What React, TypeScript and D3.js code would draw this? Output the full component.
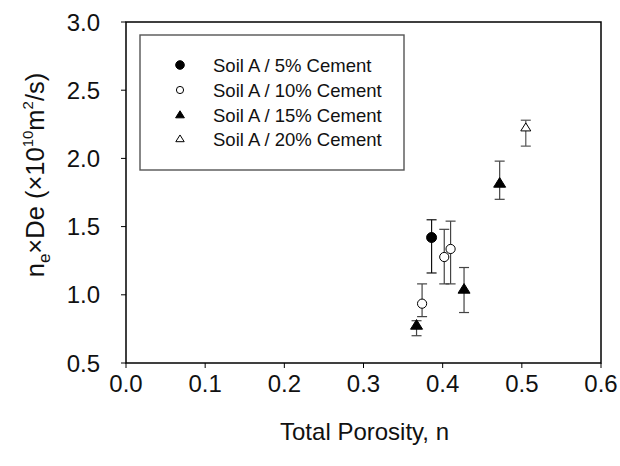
import React from "react";
import * as d3 from "d3";

// Total porosity (n) vs. ne×De, with error bars, per cement content
const series = ["Soil A / 5% Cement", "Soil A / 10% Cement", "Soil A / 15% Cement", "Soil A / 20% Cement"];

const cement5 = [{ n: 0.386, v: 1.42, lo: 1.16, hi: 1.55 }];
const cement10 = [
  { n: 0.374, v: 0.935, lo: 0.84, hi: 1.08 },
  { n: 0.402, v: 1.277, lo: 1.08, hi: 1.48 },
  { n: 0.41, v: 1.336, lo: 1.08, hi: 1.54 },
];
const cement15 = [
  { n: 0.367, v: 0.776, lo: 0.7, hi: 0.81 },
  { n: 0.427, v: 1.04, lo: 0.87, hi: 1.2 },
  { n: 0.472, v: 1.817, lo: 1.7, hi: 1.98 },
];
const cement20 = [{ n: 0.505, v: 2.225, lo: 2.09, hi: 2.28 }];

const xTicks = [0, 0.1, 0.2, 0.3, 0.4, 0.5, 0.6];
const yTicks = [0.5, 1.0, 1.5, 2.0, 2.5, 3.0];

const W = 620;
const H = 466;
const M = { left: 126, right: 601, top: 22, bottom: 363 };
const FONT = "'Liberation Sans', Arial, sans-serif";

type Pt = { n: number; v: number; lo: number; hi: number };
type Shape = "circle" | "triangle";

const styles: { shape: Shape; fill: string; bar: string; size: number; legendSize: number }[] = [
  { shape: "circle", fill: "#000", bar: "#111", size: 5, legendSize: 4.3 },
  { shape: "circle", fill: "#fff", bar: "#444", size: 4.6, legendSize: 3.6 },
  { shape: "triangle", fill: "#000", bar: "#444", size: 6, legendSize: 4.4 },
  { shape: "triangle", fill: "#fff", bar: "#555", size: 5, legendSize: 4.2 },
];

function Marker({ shape, fill, x, y, r }: { shape: Shape; fill: string; x: number; y: number; r: number }) {
  if (shape === "circle") {
    return <circle cx={x} cy={y} r={r} fill={fill} stroke="#000" strokeWidth={1} />;
  }
  const h = r * 1.6;
  const pts = `${x},${y - h * 0.6} ${x - r},${y + h * 0.4} ${x + r},${y + h * 0.4}`;
  return <polygon points={pts} fill={fill} stroke="#000" strokeWidth={1} strokeLinejoin="miter" />;
}

export default function App() {
  const x = d3.scaleLinear().domain([0, 0.6]).range([M.left, M.right]);
  const y = d3.scaleLinear().domain([0.5, 3.0]).range([M.bottom, M.top]);
  const data: Pt[][] = [cement5, cement10, cement15, cement20];
  const fmt = d3.format(".1f");
  const cap = 5;

  const legendX = 140;
  const legendY = 35;
  const rows = [65, 90, 115, 139];

  return (
    <svg width={W} height={H} style={{ position: "absolute", left: 0, top: 0, background: "#fff" }} fontFamily={FONT}>
      <rect width={W} height={H} fill="#fff" />

      {/* error bars */}
      {data.map((pts, si) =>
        pts.map((p, i) => {
          const cx = x(p.n);
          return (
            <g key={`e${si}-${i}`} stroke={styles[si].bar} strokeWidth={1.2}>
              <line x1={cx} x2={cx} y1={y(p.hi)} y2={y(p.lo)} />
              <line x1={cx - cap} x2={cx + cap} y1={y(p.hi)} y2={y(p.hi)} />
              <line x1={cx - cap} x2={cx + cap} y1={y(p.lo)} y2={y(p.lo)} />
            </g>
          );
        })
      )}

      {/* markers */}
      {data.map((pts, si) =>
        pts.map((p, i) => (
          <Marker key={`m${si}-${i}`} shape={styles[si].shape} fill={styles[si].fill} x={x(p.n)} y={y(p.v)} r={styles[si].size} />
        ))
      )}

      {/* frame */}
      <rect x={M.left} y={M.top} width={M.right - M.left} height={M.bottom - M.top} fill="none" stroke="#000" strokeWidth={1.5} />

      {/* x axis ticks and labels */}
      {xTicks.map((t) => (
        <g key={`x${t}`}>
          <line x1={x(t)} x2={x(t)} y1={M.bottom} y2={M.bottom + 5} stroke="#000" strokeWidth={1} />
          <text x={x(t)} y={392} fontSize={24} textAnchor="middle" fill="#111">
            {fmt(t)}
          </text>
        </g>
      ))}

      {/* y axis ticks and labels */}
      {yTicks.map((t) => (
        <g key={`y${t}`}>
          <line x1={M.left - 5} x2={M.left} y1={y(t)} y2={y(t)} stroke="#000" strokeWidth={1} />
          <text x={100} y={y(t) + 8.5} fontSize={24} textAnchor="end" fill="#111">
            {fmt(t)}
          </text>
        </g>
      ))}

      {/* axis titles */}
      <text x={(M.left + M.right) / 2 + 1} y={440} fontSize={24} textAnchor="middle" fill="#111">
        Total Porosity, n
      </text>
      <text transform={`translate(44,${175}) rotate(-90)`} fontSize={25.5} textAnchor="middle" fill="#111">
        <tspan>n</tspan>
        <tspan fontSize={17} dy={6}>e</tspan>
        <tspan dy={-6}>×De (×10</tspan>
        <tspan fontSize={15} dy={-11}>10</tspan>
        <tspan dy={11}>m</tspan>
        <tspan fontSize={15} dy={-11}>2</tspan>
        <tspan dy={11}>/s)</tspan>
      </text>

      {/* legend */}
      <rect x={legendX} y={legendY} width={264} height={135} fill="#fff" stroke="#555" strokeWidth={1.4} />
      {series.map((name, i) => (
        <g key={name}>
          <Marker shape={styles[i].shape} fill={styles[i].fill} x={180} y={rows[i]} r={styles[i].legendSize} />
          <text x={213} y={rows[i] + 6.5} fontSize={18.5} fill="#111">
            {name}
          </text>
        </g>
      ))}
    </svg>
  );
}
